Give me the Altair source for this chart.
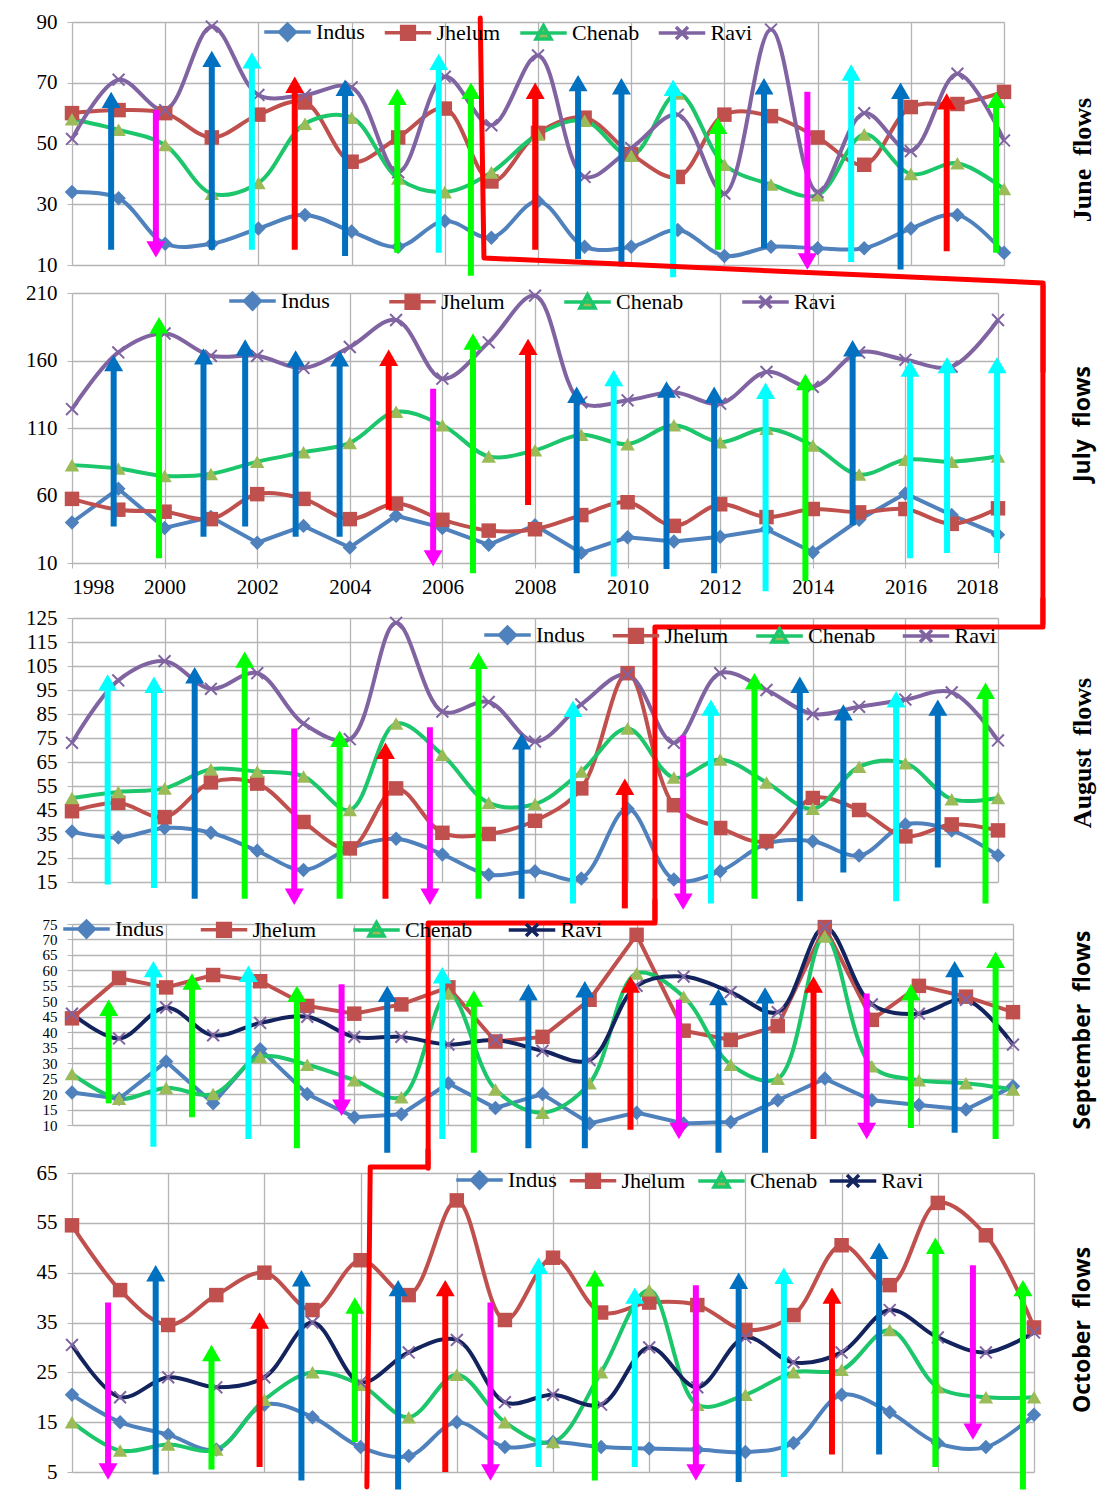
import altair as alt
import pandas as pd

YEARS = list(range(1998, 2019))
SERIES = ["Indus", "Jhelum", "Chenab", "Ravi"]
KINDS = ["B", "C", "R", "G", "M"]

# ---------------- June ----------------
JUNE_INDUS = [34, 32, 17, 17, 22, 26.5, 21, 16, 24.5, 19, 31, 16, 16, 21.5, 13, 16, 15.5, 15.5, 22, 26.5, 14]
JUNE_JHELUM = [60, 61, 60, 52, 59.5, 63.5, 44, 52, 61.5, 37.5, 53.5, 58.5, 46.5, 39, 59.5, 59, 52, 43, 62, 63, 67]
JUNE_CHENAB = [58, 54.5, 49.5, 33.5, 37, 56.5, 58.5, 38.5, 34, 40.5, 53, 57.5, 46, 66.5, 43, 36.5, 33, 53, 40, 43.5, 35]
JUNE_RAVI = [51.5, 71, 61, 88.5, 66, 66, 68.5, 40.5, 72, 56, 79, 39, 48.5, 59.5, 33.5, 87.5, 34, 60, 47.5, 73, 51]
JUNE_ARROW_X = [1998.84, 1999.8, 2001.0, 2001.86, 2002.78, 2003.86, 2004.98, 2005.87, 2006.56, 2007.94,
                2008.86, 2009.79, 2010.9, 2011.86, 2012.85, 2013.78, 2014.72, 2015.78, 2016.77, 2017.83]
JUNE_ARROW_FROM = [15, 61, 15, 15, 15, 13, 14, 14, 6.5, 15, 12, 9.5, 6, 15, 15.5, 67, 11, 8.5, 14.5, 14]
JUNE_ARROW_TO = [67, 12.5, 80.5, 80, 72, 71, 68, 79.5, 70, 70, 72.5, 71.5, 71, 58.5, 71.5, 8.5, 76, 70, 66.5, 67]
JUNE_ARROW_KIND = ["B", "M", "B", "C", "R", "B", "G", "C", "G", "R", "B", "B", "C", "G", "B", "M", "C", "B", "R", "G"]
JUNE_RED_X = [2006.76, 2006.84, 2018.84, 2018.84]
JUNE_RED_Y = [91.3, 12.3, 4.1, -25]

# ---------------- July ----------------
JULY_INDUS = [40, 65, 36, 44, 25, 37.5, 21.5, 45, 36, 23.5, 38, 17.5, 29, 26, 29.5, 35, 18, 42, 61.5, 45.5, 31]
JULY_JHELUM = [57.5, 49.5, 48, 42.5, 61, 57.5, 42.5, 54, 42, 34, 35, 45.5, 55, 37.5, 53.5, 44, 50, 47.5, 50, 39, 50.5]
JULY_CHENAB = [82.5, 80, 74.5, 76, 85, 92, 99, 122, 112, 89, 93.5, 105, 98, 112, 99.5, 109.5, 97, 75.5, 86.5, 85, 89]
JULY_RAVI = [124, 166, 180, 163.5, 163.5, 154.5, 170, 190, 146.5, 173.5, 208, 129, 130.5, 136.5, 128, 151.5, 140.5, 166, 160.5, 155.5, 190]
JULY_ARROW_X = [1998.9, 1999.88, 2000.84, 2001.74, 2002.83, 2003.78, 2004.84, 2005.8, 2006.66, 2007.85,
                2008.9, 2009.7, 2010.84, 2011.87, 2012.98, 2013.84, 2014.86, 2016.1, 2016.9, 2017.98]
JULY_ARROW_FROM = [37, 13.5, 29.5, 37, 29.5, 29.5, 49.5, 139, 2.5, 53, 2.5, 0, 5.5, 2.5, -11, -3.5, 38, 13.5, 17.5, 17.5]
JULY_ARROW_TO = [164, 192, 169, 175.5, 167.5, 167.5, 168, 7.5, 180, 176, 140.5, 153, 144.5, 140.5, 143.5, 150, 175, 160, 162.5, 162.5]
JULY_ARROW_KIND = ["B", "G", "B", "B", "B", "B", "R", "M", "G", "R", "B", "C", "B", "B", "C", "G", "B", "C", "C", "C"]
JULY_RED_X = [2018.97, 2018.97]
JULY_RED_Y = [215, -35]

# ---------------- August ----------------
AUG_INDUS = [36, 33.5, 37.5, 35.5, 28, 20, 29, 33, 26.5, 18, 19.5, 16.5, 45.5, 16, 19.5, 31, 32, 26, 39, 36.5, 26]
AUG_JHELUM = [44.5, 48, 42, 56.5, 56, 40, 29, 54, 35.5, 35, 40.5, 54, 102, 47, 37.5, 32, 50, 45, 34, 39, 36.5]
AUG_CHENAB = [50, 52.5, 54, 62, 61, 59, 45, 81, 68, 48, 47.5, 61, 79, 58.5, 66, 56.5, 45.5, 63, 64.5, 49.5, 50]
AUG_RAVI = [73, 99, 107, 95.5, 102, 81, 74.5, 123, 86, 90, 73.5, 89, 101.5, 73, 102, 95, 85, 88, 91, 94, 74]
AUG_ARROW_X = [1998.77, 1999.77, 2000.65, 2001.73, 2002.8, 2003.78, 2004.77, 2005.73, 2006.78, 2007.71,
               2008.82, 2009.94, 2011.2, 2011.8, 2012.74, 2013.72, 2014.66, 2015.8, 2016.7, 2017.73]
AUG_ARROW_FROM = [14, 12.5, 8, 8, 79, 8, 8, 79.5, 8, 8, 6, 4, 76, 6, 8, 7, 19, 7, 21, 6]
AUG_ARROW_TO = [101.5, 100.5, 104.5, 111, 5.5, 78, 73, 5.5, 110.5, 77, 90.5, 58, 3.5, 91, 102, 100.5, 89, 94.5, 91, 98]
AUG_ARROW_KIND = ["C", "C", "B", "G", "M", "G", "R", "M", "G", "B", "C", "R", "M", "C", "G", "B", "B", "C", "B", "G"]
AUG_RED_X = [2018.97, 2018.97, 2010.59, 2010.59]
AUG_RED_Y = [133, 121.3, 121.3, -1]

# ---------------- September ----------------
SEP_INDUS = [20.5, 18.5, 30.5, 17, 34.5, 20, 12.5, 13.5, 23.5, 15.5, 20, 10.5, 14, 10.5, 11, 18, 25, 18, 16.5, 15, 22.5]
SEP_JHELUM = [44.5, 57.5, 54.5, 58.5, 56.5, 48.5, 46, 49, 54.5, 37, 38.5, 50.5, 71.5, 40.5, 37.5, 42, 74, 44, 55, 51.5, 46.5]
SEP_CHENAB = [26.5, 18.5, 22, 20, 32, 29.5, 24.5, 19, 52.5, 21.5, 14, 23.5, 59, 51.5, 29.5, 25, 71, 29, 24.5, 23.5, 21.5]
SEP_RAVI = [46, 38, 48, 39, 43, 45, 38.5, 38.5, 36, 37.5, 34, 31, 55, 58, 53, 46.5, 74, 49, 46, 50.5, 36]
SEP_ARROW_X = [1998.78, 1999.73, 2000.55, 2001.75, 2002.78, 2003.73, 2004.7, 2005.87, 2006.54, 2007.7,
               2008.9, 2009.87, 2010.9, 2011.74, 2012.73, 2013.76, 2014.89, 2015.83, 2016.76, 2017.63]
SEP_ARROW_FROM = [17, 3, 12.5, 5.5, 2.5, 55.5, 1, 5.5, 1, 2.5, 2.5, 8.5, 50.5, 1, 1, 5.5, 52.5, 9, 7.5, 5.5]
SEP_ARROW_TO = [50.5, 63, 59, 61.5, 55, 13, 55, 61, 53.5, 55.5, 56.5, 58, 5.5, 54, 54.5, 58, 5.5, 55.5, 63, 66]
SEP_ARROW_KIND = ["G", "C", "G", "C", "G", "M", "B", "C", "G", "B", "B", "R", "M", "B", "B", "R", "M", "G", "B", "G"]
SEP_RED_X = [2010.39, 2010.39, 2005.57, 2005.57]
SEP_RED_Y = [82.8, 75.3, 75.3, -4]

# ---------------- October ----------------
OCT_INDUS = [20.5, 15, 12.5, 9.5, 18.5, 16, 10, 8.2, 15, 10, 11, 10, 9.7, 9.5, 9, 10.8, 20.5, 17, 10.8, 10, 16.5]
OCT_JHELUM = [54.5, 41.5, 34.5, 40.5, 45, 37.5, 47.5, 40.5, 59.5, 35.5, 48, 37, 39, 38.5, 33.5, 36.5, 50.5, 42.5, 59, 52.5, 34]
OCT_CHENAB = [15, 9.3, 10.5, 9.5, 19.5, 25, 22.5, 16, 24.5, 15, 11, 25, 41.5, 18.5, 20.5, 25, 25.5, 33.5, 22, 20, 20]
OCT_RAVI = [30.5, 20, 24, 22, 24, 35, 23, 29, 31.5, 19, 20.5, 18.5, 30, 22, 32, 27, 29, 37.5, 32, 29, 33]
OCT_ARROW_X = [1998.75, 1999.74, 2000.9, 2001.9, 2002.77, 2003.88, 2004.78, 2005.76, 2006.7, 2007.7,
               2008.87, 2009.7, 2010.97, 2011.86, 2012.8, 2013.8, 2014.78, 2015.95, 2016.73, 2017.77]
OCT_ARROW_FROM = [39, 4.5, 5.5, 6, 3.3, 11, 1.5, 5, 39, 6, 3.3, 6, 42.5, 3, 4, 8.5, 8.5, 6, 46.5, 1.5]
OCT_ARROW_TO = [3.5, 46.5, 30.5, 37, 45.5, 40, 43.5, 43.5, 3.3, 48, 45.5, 42, 3.3, 45, 46, 42, 51, 52, 11.5, 43.5]
OCT_ARROW_KIND = ["M", "B", "G", "R", "B", "G", "B", "R", "M", "C", "G", "C", "M", "B", "C", "R", "B", "G", "M", "G"]
OCT_RED_X = [2005.4, 2005.4, 2004.2, 2004.13]
OCT_RED_Y = [69.6, 66.2, 66.2, 2.0]

# ---------------- styles ----------------
SERIF = "Liberation Serif"
SANS = "Open Sans"
LINE_COLORS = {"Indus": "#4F81BD", "Jhelum": "#C0504D", "Chenab": "#1CC66A", "Ravi": "#8064A2"}
RAVI_DARK = "#13235E"
MARK_COLORS = {"Indus": "#4F81BD", "Jhelum": "#C0504D", "Chenab": "#9BBB59", "Ravi": "#8064A2"}
KIND_COLORS = ["#0070C0", "#00FFFF", "#FF0000", "#00FF00", "#FF00FF"]
CROSS = "M-0.8,-0.8L0.8,0.8M-0.8,0.8L0.8,-0.8"
MARK_SHAPES = {"Indus": "diamond", "Jhelum": "square", "Chenab": "triangle-up", "Ravi": CROSS}
LEGEND_SHAPES = [
    "M-3.1,0L3.1,0M0,-1.05L1.05,0L0,1.05L-1.05,0Z",
    "M-3.1,0L3.1,0M-0.85,-0.85L0.85,-0.85L0.85,0.85L-0.85,0.85Z",
    "M-3.1,0L3.1,0M0,-1L1,0.8L-1,0.8Z",
    "M-3.1,0L3.1,0M-0.8,-0.8L0.8,0.8M-0.8,0.8L0.8,-0.8",
]
SMOOTH = "catmull-rom"

PANELS = [
    dict(vals=[JUNE_INDUS, JUNE_JHELUM, JUNE_CHENAB, JUNE_RAVI],
         arrows=(JUNE_ARROW_X, JUNE_ARROW_FROM, JUNE_ARROW_TO, JUNE_ARROW_KIND),
         red=(JUNE_RED_X, JUNE_RED_Y), dom=[10, 90], yt=[10, 30, 50, 70, 90], yfs=21,
         w=932, h=243, xlabels=False, leg=(204.5, -1, 11.5),
         label="June\u00a0\u00a0flows", labfont=SERIF, labsize=26, laby=138,
         ravi=LINE_COLORS["Ravi"], interp={"Indus": SMOOTH, "Jhelum": SMOOTH, "Chenab": SMOOTH, "Ravi": SMOOTH}),
    dict(vals=[JULY_INDUS, JULY_JHELUM, JULY_CHENAB, JULY_RAVI],
         arrows=(JULY_ARROW_X, JULY_ARROW_FROM, JULY_ARROW_TO, JULY_ARROW_KIND),
         red=(JULY_RED_X, JULY_RED_Y), dom=[10, 210], yt=[10, 60, 110, 160, 210], yfs=21,
         w=926, h=270, xlabels=True, leg=(169.5, -3, 51),
         label="July\u00a0\u00a0flows", labfont=SANS, labsize=23, laby=131,
         ravi=LINE_COLORS["Ravi"], interp={"Indus": "linear", "Jhelum": SMOOTH, "Chenab": SMOOTH, "Ravi": SMOOTH}),
    dict(vals=[AUG_INDUS, AUG_JHELUM, AUG_CHENAB, AUG_RAVI],
         arrows=(AUG_ARROW_X, AUG_ARROW_FROM, AUG_ARROW_TO, AUG_ARROW_KIND),
         red=(AUG_RED_X, AUG_RED_Y), dom=[15, 125], yt=list(range(15, 126, 10)), yfs=21,
         w=926, h=264, xlabels=False, leg=(424.5, 6, 19.5),
         label="August\u00a0\u00a0flows", labfont=SERIF, labsize=26, laby=135,
         ravi=LINE_COLORS["Ravi"], interp={"Indus": SMOOTH, "Jhelum": SMOOTH, "Chenab": SMOOTH, "Ravi": SMOOTH}),
    dict(vals=[SEP_INDUS, SEP_JHELUM, SEP_CHENAB, SEP_RAVI],
         arrows=(SEP_ARROW_X, SEP_ARROW_FROM, SEP_ARROW_TO, SEP_ARROW_KIND),
         red=(SEP_RED_X, SEP_RED_Y), dom=[10, 75], yt=list(range(10, 76, 5)), yfs=15,
         w=941, h=201, xlabels=False, leg=(3.5, -6, 28.5),
         label="September\u00a0\u00a0flows", labfont=SANS, labsize=23, laby=106,
         ravi=RAVI_DARK, interp={"Indus": "linear", "Jhelum": "linear", "Chenab": SMOOTH, "Ravi": SMOOTH}),
    dict(vals=[OCT_INDUS, OCT_JHELUM, OCT_CHENAB, OCT_RAVI],
         arrows=(OCT_ARROW_X, OCT_ARROW_FROM, OCT_ARROW_TO, OCT_ARROW_KIND),
         red=(OCT_RED_X, OCT_RED_Y), dom=[5, 65], yt=list(range(5, 66, 10)), yfs=21,
         w=962, h=299, xlabels=False, leg=(396.5, -4, 4.5),
         label="October\u00a0\u00a0flows", labfont=SANS, labsize=23, laby=157,
         ravi=RAVI_DARK, interp={"Indus": SMOOTH, "Jhelum": SMOOTH, "Chenab": SMOOTH, "Ravi": SMOOTH}),
]
GAPS = [28, 55, 42, 48]
LABEL_X = 1011


def series_frame(vals):
    rows = []
    for s, v in zip(SERIES, vals):
        for yr, val in zip(YEARS, v):
            rows.append({"year": yr, "series": s, "value": val})
    return pd.DataFrame(rows)


def arrow_frame(xs, a0, a1, kinds):
    return pd.DataFrame({"xa": xs, "a0": a0, "a1": a1, "kind": kinds,
                         "dir": ["up" if b > a else "down" for a, b in zip(a0, a1)]})


def panel(p):
    xs = alt.Scale(domain=[1998, 2018], nice=False, zero=False)
    ys = alt.Scale(domain=p["dom"], nice=False, zero=False)
    xa = alt.Axis(values=list(range(1998, 2019, 2)), format="d", title=None, grid=True, domain=False,
                  labels=p["xlabels"], ticks=p["xlabels"], tickSize=5, labelPadding=8,
                  labelFont=SERIF, labelFontSize=21, labelColor="black",
                  gridColor="#B4B4B4", gridWidth=1.3, tickColor="#B4B4B4")
    ya = alt.Axis(values=p["yt"], title=None, grid=True, domain=False, tickSize=5, labelPadding=10,
                  labelOverlap=False, labelFont=SERIF, labelFontSize=p["yfs"], labelColor="black",
                  gridColor="#B4B4B4", gridWidth=1.3, tickColor="#B4B4B4")

    def X(f):
        return alt.X(f + ":Q", scale=xs, axis=xa)

    def Y(f):
        return alt.Y(f + ":Q", scale=ys, axis=ya)

    df = series_frame(p["vals"])
    layers = []
    for s in SERIES:
        col = p["ravi"] if s == "Ravi" else LINE_COLORS[s]
        layers.append(
            alt.Chart(df).transform_filter(alt.datum.series == s)
            .mark_line(interpolate=p["interp"][s], color=col, strokeWidth=4)
            .encode(x=X("year"), y=Y("value"))
        )
    for s in SERIES:
        base = alt.Chart(df).transform_filter(alt.datum.series == s)
        if s == "Ravi":
            m = base.mark_point(shape=CROSS, filled=False, stroke=MARK_COLORS[s], strokeWidth=2,
                                size=220, opacity=1)
        else:
            m = base.mark_point(shape=MARK_SHAPES[s], filled=True, color=MARK_COLORS[s],
                                size=210, opacity=1)
        layers.append(m.encode(x=X("year"), y=Y("value")))

    adf = arrow_frame(*p["arrows"])
    kc = alt.Color("kind:N", scale=alt.Scale(domain=KINDS, range=KIND_COLORS), legend=None)
    for d, off, shape, yo in (("up", 10, "triangle-up", 8), ("down", -10, "triangle-down", -8)):
        base = alt.Chart(adf).transform_filter(alt.datum.dir == d)
        layers.append(base.mark_rule(strokeWidth=6, y2Offset=off)
                      .encode(x=X("xa"), y=Y("a0"), y2=alt.Y2("a1:Q"), color=kc))
        layers.append(base.mark_point(shape=shape, filled=True, size=360, opacity=1, yOffset=yo)
                      .encode(x=X("xa"), y=Y("a1"), color=kc))

    rx, ry = p["red"]
    rdf = pd.DataFrame({"rx": rx, "ry": ry, "i": list(range(len(rx)))})
    layers.append(alt.Chart(rdf).mark_line(color="#FF0000", strokeWidth=5, strokeJoin="round",
                                           strokeCap="round")
                  .encode(x=X("rx"), y=Y("ry"), order=alt.Order("i:Q")))

    lx, ly, cp = p["leg"]
    leg = alt.Legend(title=None, orient="none", legendX=lx, legendY=ly, direction="horizontal",
                     labelFont=SERIF, labelFontSize=22, labelColor="black", symbolSize=225,
                     symbolStrokeWidth=3.5, labelOffset=17.5, columnPadding=cp, padding=0,
                     symbolOpacity=1)
    line_cols = [p["ravi"] if s == "Ravi" else LINE_COLORS[s] for s in SERIES]
    layers.append(
        alt.Chart(df).transform_filter("false").mark_point(filled=True, opacity=1)
        .encode(x=X("year"), y=Y("value"),
                shape=alt.Shape("series:N", scale=alt.Scale(domain=SERIES, range=LEGEND_SHAPES), legend=leg),
                fill=alt.Fill("series:N", scale=alt.Scale(domain=SERIES, range=[MARK_COLORS[s] for s in SERIES]), legend=leg),
                stroke=alt.Stroke("series:N", scale=alt.Scale(domain=SERIES, range=line_cols), legend=leg))
    )

    tdf = pd.DataFrame({"t": [p["label"]]})
    layers.append(alt.Chart(tdf).mark_text(angle=270, font=p["labfont"], fontSize=p["labsize"],
                                           fontWeight="bold", color="black", align="center",
                                           baseline="middle")
                  .encode(x=alt.value(LABEL_X), y=alt.value(p["laby"]), text="t:N"))
    return alt.layer(*layers).properties(width=p["w"], height=p["h"])


def spacer(h):
    return alt.Chart(pd.DataFrame({"v": [0]})).mark_point(opacity=0).encode(
        x=alt.X("v:Q", axis=None), y=alt.Y("v:Q", axis=None)).properties(width=10, height=h)


parts = []
for i, p in enumerate(PANELS):
    parts.append(panel(p))
    if i < len(GAPS):
        parts.append(spacer(GAPS[i]))

chart = alt.vconcat(*parts, spacing=0, bounds="flush").resolve_scale(
    shape="independent", fill="independent", stroke="independent", color="independent"
).resolve_legend(
    shape="independent", fill="independent", stroke="independent", color="independent"
).properties(
    padding={"left": 25, "top": 10, "right": 0, "bottom": 0}, background="white"
).configure_view(stroke="transparent")

chart.save("out.html", embed_options={"renderer": "svg", "actions": False})
